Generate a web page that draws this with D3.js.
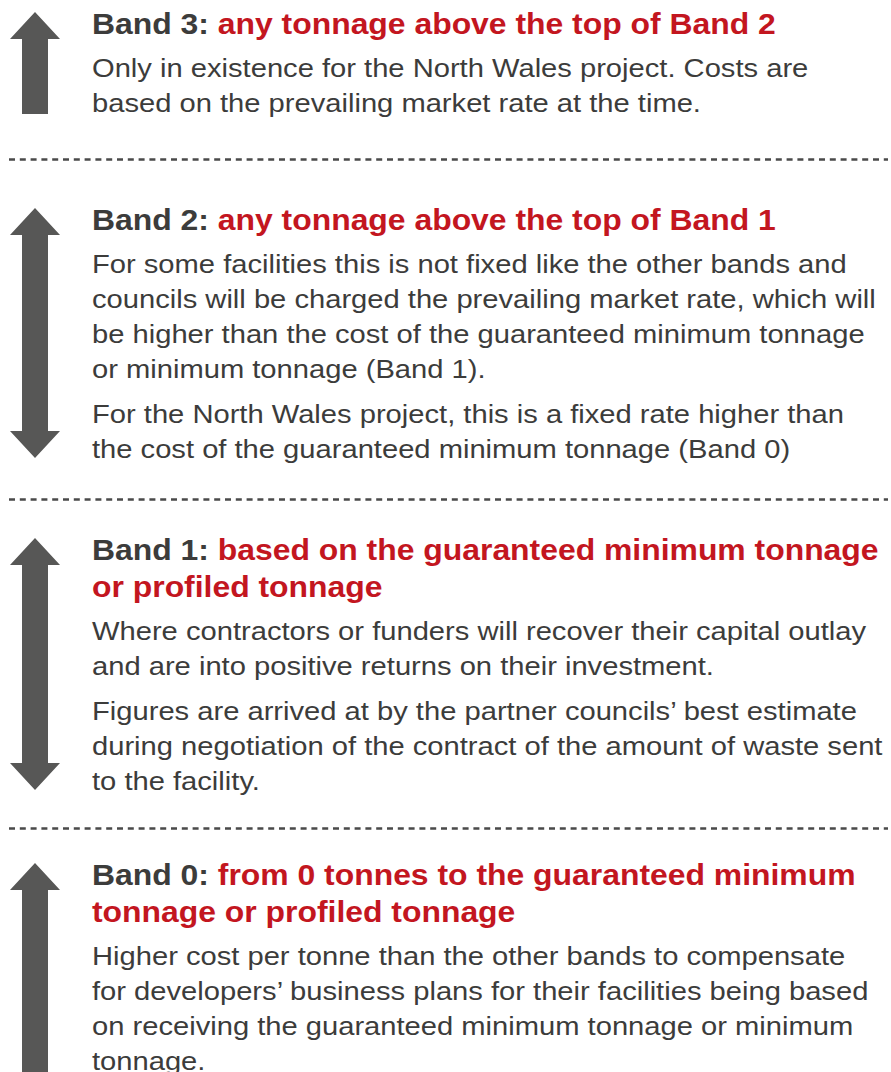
<!DOCTYPE html>
<html>
<head>
<meta charset="utf-8">
<script src="https://cdn.jsdelivr.net/npm/d3@7"></script>
<style>
  body { margin: 0; background: #fff; }
  svg { display: block; }
</style>
</head>
<body>
<div id="chart"></div>
<script>
// band names and their red titles (one entry per wrapped line)
const bandLabels = ["Band 3:", "Band 2:", "Band 1:", "Band 0:"];
const bandTitles = [
  ["any tonnage above the top of Band 2"],
  ["any tonnage above the top of Band 1"],
  ["based on the guaranteed minimum tonnage", "or profiled tonnage"],
  ["from 0 tonnes to the guaranteed minimum", "tonnage or profiled tonnage"]
];
// body paragraphs, already broken into lines as in the original
const bandBodies = [
  [["Only in existence for the North Wales project. Costs are",
    "based on the prevailing market rate at the time."]],
  [["For some facilities this is not fixed like the other bands and",
    "councils will be charged the prevailing market rate, which will",
    "be higher than the cost of the guaranteed minimum tonnage",
    "or minimum tonnage (Band 1)."],
   ["For the North Wales project, this is a fixed rate higher than",
    "the cost of the guaranteed minimum tonnage (Band 0)"]],
  [["Where contractors or funders will recover their capital outlay",
    "and are into positive returns on their investment."],
   ["Figures are arrived at by the partner councils\u2019 best estimate",
    "during negotiation of the contract of the amount of waste sent",
    "to the facility."]],
  [["Higher cost per tonne than the other bands to compensate",
    "for developers\u2019 business plans for their facilities being based",
    "on receiving the guaranteed minimum tonnage or minimum",
    "tonnage."]]
];
// which way each arrow points
const arrowTypes = ["up", "both", "both", "up-open"];

const width = 891, height = 1072;
const cfg = {
  textX: 92, sx: 1.1,
  headSize: 29, bodySize: 26.5,
  headLine: 37, headToBody: 43, bodyLine: 35, paraGap: 45,
  sectionGap: [0, 118, 102, 95],
  arrowX: 35, headHalf: 25, shaftHalf: 13, headH: 27,
  grey: "#3c3c3b", red: "#c3161f", arrow: "#575756"
};

const svg = d3.select("#chart").append("svg")
  .attr("width", width).attr("height", height);

// flow layout: work out the baseline of every line
let first = 34;
const sections = bandLabels.map((lab, i) => {
  const headY = i === 0 ? first : null;
  return {lab, titles: bandTitles[i], paras: bandBodies[i], type: arrowTypes[i]};
});
let cursor = first;
sections.forEach((s, i) => {
  if (i > 0) cursor = sections[i - 1].lastY + cfg.sectionGap[i];
  s.headY = cursor;
  s.titleYs = s.titles.map((t, k) => cursor + k * cfg.headLine);
  let y = s.titleYs[s.titleYs.length - 1] + cfg.headToBody;
  s.lines = [];
  s.paras.forEach((p, pi) => {
    if (pi > 0) y += cfg.paraGap - cfg.bodyLine;
    p.forEach(line => { s.lines.push({text: line, y}); y += cfg.bodyLine; });
  });
  s.lastY = s.lines[s.lines.length - 1].y;
});

const font = "'Liberation Sans', Arial, Helvetica, sans-serif";

const g = svg.selectAll("g.band").data(sections).enter().append("g").attr("class", "band");

// headings
g.each(function(s) {
  const sel = d3.select(this);
  s.titles.forEach((t, k) => {
    const txt = sel.append("text")
      .attr("transform", `translate(${cfg.textX},${s.titleYs[k]}) scale(${cfg.sx},1)`)
      .attr("font-family", font).attr("font-weight", "bold")
      .attr("font-size", cfg.headSize);
    if (k === 0) {
      txt.append("tspan").attr("fill", cfg.grey).text(s.lab + " ");
    }
    txt.append("tspan").attr("fill", cfg.red).text(t);
  });
  sel.selectAll("text.body").data(s.lines).enter().append("text")
    .attr("class", "body")
    .attr("transform", d => `translate(${cfg.textX},${d.y}) scale(${cfg.sx},1)`)
    .attr("font-family", font)
    .attr("font-size", cfg.bodySize)
    .attr("fill", cfg.grey)
    .text(d => d.text);
});

// arrows
function arrowPath(top, bottom, type) {
  const x = cfg.arrowX, h = cfg.headHalf, w = cfg.shaftHalf, hh = cfg.headH;
  const p = d3.path();
  p.moveTo(x, top);
  p.lineTo(x + h, top + hh);
  p.lineTo(x + w, top + hh);
  if (type === "both") {
    p.lineTo(x + w, bottom - hh);
    p.lineTo(x + h, bottom - hh);
    p.lineTo(x, bottom);
    p.lineTo(x - h, bottom - hh);
    p.lineTo(x - w, bottom - hh);
  } else {
    p.lineTo(x + w, bottom);
    p.lineTo(x - w, bottom);
  }
  p.lineTo(x - w, top + hh);
  p.lineTo(x - h, top + hh);
  p.closePath();
  return p.toString();
}

g.append("path")
  .attr("fill", cfg.arrow)
  .attr("d", s => {
    const top = s.headY - 22;
    let bottom = s.lastY;
    if (s.type === "up") bottom = s.lastY + 2;
    if (s.type === "up-open") bottom = height;
    return arrowPath(top, bottom, s.type);
  });

// dotted separators between bands
const divs = sections.slice(1).map((s, i) => {
  const prev = sections[i].lastY;
  return prev + 0.4 * (s.headY - prev);
});
svg.selectAll("line.sep").data(divs).enter().append("line")
  .attr("class", "sep")
  .attr("x1", 9).attr("x2", 888)
  .attr("y1", d => Math.round(d) + 0.5).attr("y2", d => Math.round(d) + 0.5)
  .attr("stroke", "#4a4a4a")
  .attr("stroke-width", 2.5)
  .attr("stroke-dasharray", "6,4.8");
</script>
</body>
</html>
